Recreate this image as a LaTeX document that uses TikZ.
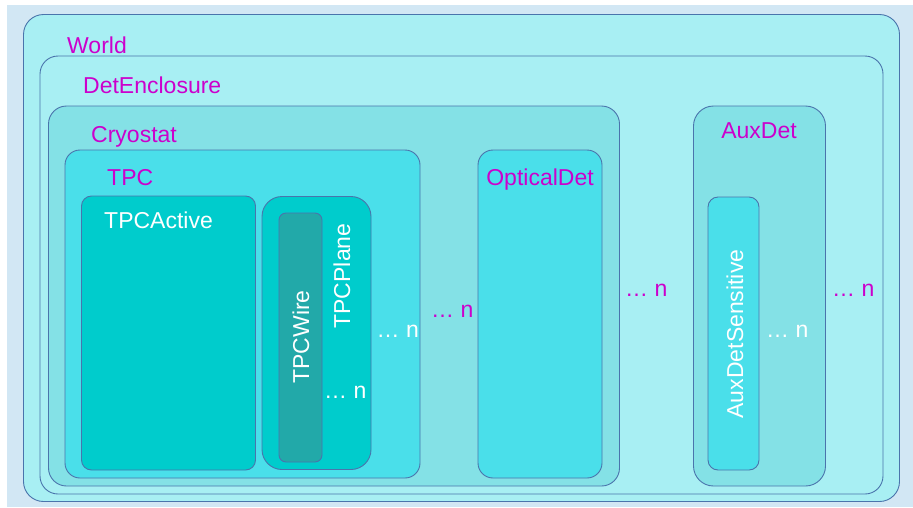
\documentclass[tikz,border=0pt]{standalone}
\usepackage{fontspec}
\setmainfont{Liberation Sans}
\definecolor{bgc}{HTML}{D2E7F4}
\definecolor{worldc}{HTML}{A8EFF3}
\definecolor{cryoc}{HTML}{84E1E6}
\definecolor{tpcc}{HTML}{4ADFEA}
\definecolor{activec}{HTML}{00CCCC}
\definecolor{wirec}{HTML}{22A9A9}
\definecolor{edgec}{HTML}{4A74AC}
\definecolor{labc}{HTML}{CC00CC}
\tikzset{
  vol/.style={draw=edgec, line width=0.9pt, rectangle, anchor=north west, inner sep=0pt, outer sep=0pt},
  lab/.style={text=labc, anchor=base west, inner sep=0pt, font=\fontsize{23}{27}\selectfont},
  wlab/.style={text=white, anchor=base west, inner sep=0pt, font=\fontsize{23}{27}\selectfont},
  rlab/.style={text=white, rotate=90, inner sep=0pt, font=\fontsize{23}{27}\selectfont},
}
\begin{document}
\begin{tikzpicture}[x=1pt,y=-1pt]
\useasboundingbox (0,0) rectangle (913,507);
\fill[white] (0,0) rectangle (913,507);
\node[fill=bgc, anchor=north west, inner sep=0pt, minimum width=906pt, minimum height=502pt] (bg) at (7,5) {};
% World
\node[vol, fill=worldc, rounded corners=20pt, minimum width=876pt, minimum height=487pt] (world) at (23.5,14.5) {};
\node[lab] (worldl) at (67,53) {World};
% DetEnclosure
\node[vol, fill=worldc, rounded corners=18pt, minimum width=843pt, minimum height=438pt] (det) at (40,56) {};
\node[lab] (detl) at (83,93) {DetEnclosure};
% Cryostat
\node[vol, fill=cryoc, rounded corners=18pt, minimum width=571pt, minimum height=380pt] (cryo) at (48.5,106) {};
\node[lab] (cryol) at (91,142) {Cryostat};
% TPC
\node[vol, fill=tpcc, rounded corners=15pt, minimum width=355pt, minimum height=328pt] (tpc) at (65,150) {};
\node[lab] (tpcl) at (107,185) {TPC};
% TPCActive
\node[vol, fill=activec, rounded corners=10pt, minimum width=174pt, minimum height=274pt] (act) at (81.5,196) {};
\node[wlab] (actl) at (104,228) {TPCActive};
% TPCPlane
\node[vol, fill=activec, rounded corners=20pt, minimum width=109pt, minimum height=273pt] (plane) at (262,196.5) {};
% TPCWire
\node[vol, fill=wirec, rounded corners=7pt, minimum width=43pt, minimum height=249pt] (wire) at (279,213) {};
\node[rlab] (planel) at (342,276) {TPCPlane};
\node[rlab] (wirel) at (301,337) {TPCWire};
\node[wlab] (wiren) at (324,398) {… n};
\node[wlab] (planen) at (376.5,337) {… n};
\node[lab] (tpcn) at (431,317) {… n};
% OpticalDet
\node[vol, fill=tpcc, rounded corners=15pt, minimum width=124pt, minimum height=328pt] (opt) at (478,150) {};
\node[lab, anchor=base] (optl) at (540,185) {OpticalDet};
\node[lab] (optn) at (625,296) {… n};
% AuxDet
\node[vol, fill=cryoc, rounded corners=20pt, minimum width=132pt, minimum height=380pt] (aux) at (693.5,106) {};
\node[lab, anchor=base] (auxl) at (759,138) {AuxDet};
\node[vol, fill=tpcc, rounded corners=10pt, minimum width=51pt, minimum height=273pt] (auxs) at (708,197) {};
\node[rlab] (auxsl) at (735,334) {AuxDetSensitive};
\node[wlab] (auxsn) at (766,337) {… n};
\node[lab] (auxn) at (832,296) {… n};
\end{tikzpicture}
\end{document}
